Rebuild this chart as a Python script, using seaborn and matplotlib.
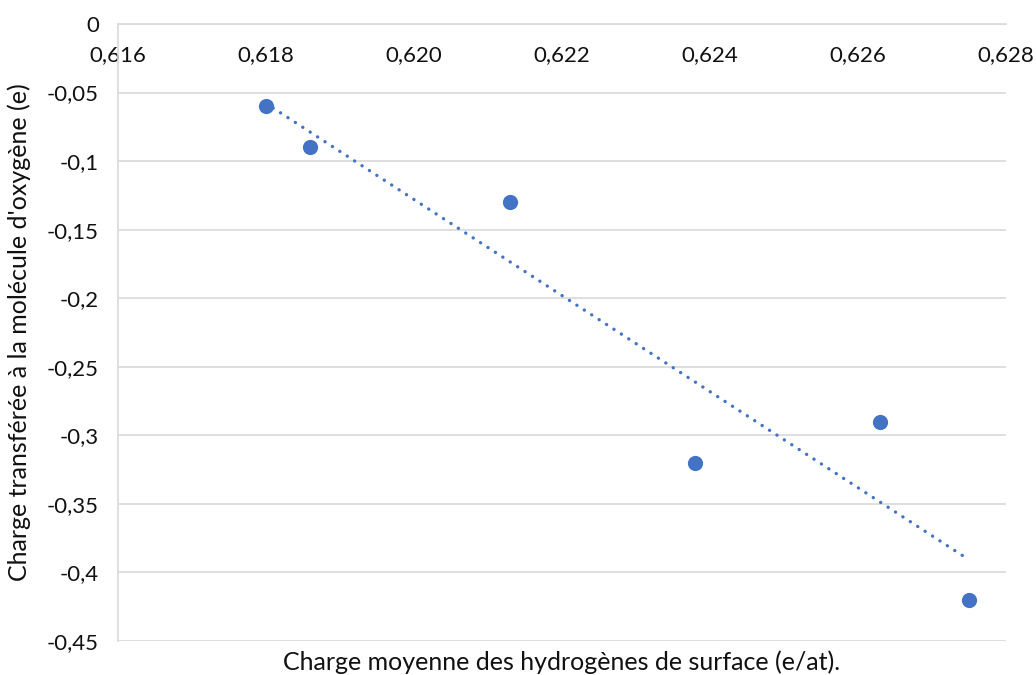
import numpy as np
import pandas as pd
import matplotlib
matplotlib.use("Agg")
import matplotlib.pyplot as plt
import seaborn as sns

# values
charge_h = [0.6180, 0.6186, 0.6213, 0.6238, 0.6263, 0.6275]
charge_o2 = [-0.06, -0.09, -0.13, -0.32, -0.29, -0.42]

x_ticks = [0.616, 0.618, 0.620, 0.622, 0.624, 0.626, 0.628]
x_labels = ["0,616", "0,618", "0,620", "0,622", "0,624", "0,626", "0,628"]
y_ticks = [0, -0.05, -0.1, -0.15, -0.2, -0.25, -0.3, -0.35, -0.4, -0.45]
y_labels = ["0", "-0,05", "-0,1", "-0,15", "-0,2", "-0,25", "-0,3", "-0,35", "-0,4", "-0,45"]

df = pd.DataFrame({"charge_h": charge_h, "charge_o2": charge_o2})

sns.set_style("white")
plt.rcParams["font.family"] = ["Lato", "DejaVu Sans"]

blue = "#4472C4"
grid = "#D9D9D9"

fig = plt.figure(figsize=(10.36, 6.75), dpi=100)
ax = fig.add_axes([0.1136, 0.0504, 0.857, 0.9141])

# linear trend line (dotted), then the markers
sns.regplot(data=df, x="charge_h", y="charge_o2", ax=ax, scatter=False, ci=None,
            color=blue, line_kws={"linestyle": (0, (0.05, 2.6)), "linewidth": 2.4,
                                  "dash_capstyle": "round", "zorder": 4})
sns.scatterplot(data=df, x="charge_h", y="charge_o2", ax=ax, color=blue, s=120,
                edgecolor=blue, linewidth=0, zorder=3)

ax.set_xlim(0.616, 0.628)
ax.set_ylim(-0.45, 0)
ax.set_xticks(x_ticks)
ax.set_xticklabels(x_labels)
ax.set_yticks(y_ticks)
ax.set_yticklabels(y_labels)

# horizontal gridlines only
ax.grid(axis="y", color=grid, linewidth=1.2)
ax.grid(axis="x", visible=False)
ax.set_axisbelow(True)

# x axis crosses at y = 0 (top of the plot)
ax.spines["bottom"].set_position(("data", 0))
ax.spines["bottom"].set_color(grid)
ax.spines["left"].set_color(grid)
ax.spines["bottom"].set_linewidth(1.2)
ax.spines["left"].set_linewidth(1.2)
ax.spines["top"].set_visible(False)
ax.spines["right"].set_visible(False)

ax.tick_params(axis="both", direction="inout", length=11, width=1.2, color=grid,
               labelsize=16, labelcolor="#111111")
ax.tick_params(axis="y", pad=8)
ax.tick_params(axis="x", pad=10)

ax.set_xlabel("Charge moyenne des hydrogènes de surface (e/at).", fontsize=18, color="#111111")
ax.xaxis.set_label_coords(0.5, -0.016)
ax.set_ylabel("Charge transférée à la molécule d'oxygène (e)", fontsize=18, color="#111111")
ax.yaxis.set_label_coords(-0.098, 0.5)

fig.savefig("out.png", dpi=100)
